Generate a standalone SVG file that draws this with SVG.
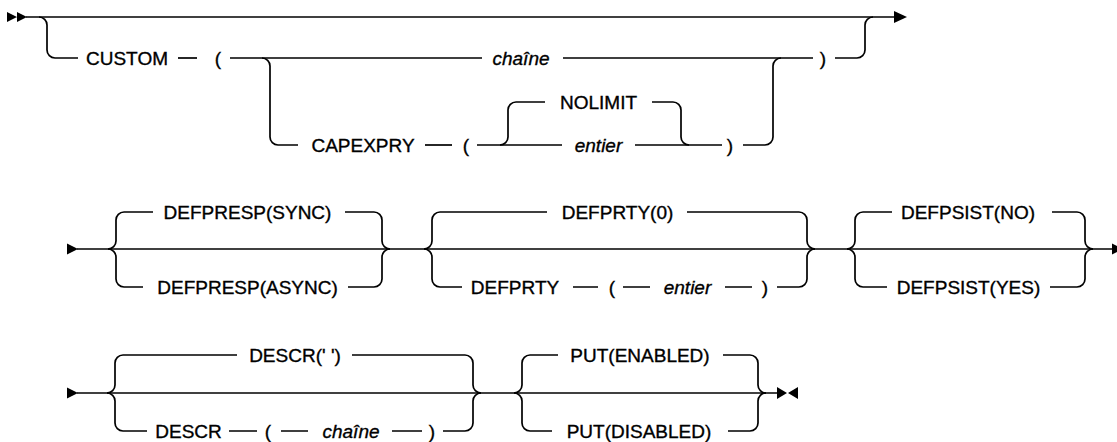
<svg xmlns="http://www.w3.org/2000/svg" width="1117" height="442" viewBox="0 0 1117 442">
<style>
.l{fill:none;stroke:#000;stroke-width:1.7}
.a{fill:#000;stroke:none}
text{font-family:"Liberation Sans",Arial,sans-serif;font-size:19px;fill:#000;stroke:#000;stroke-width:0.35;text-anchor:middle}
.i{font-style:italic}
</style>
<rect width="1117" height="442" fill="#fff"/>
<g id="connectors">
<!-- row 1 -->
<path class="a" d="M7,12 L17,17 L7,22 Z M17,12 L27,17 L17,22 Z"/>
<path class="l" d="M26,17 H895"/>
<path class="a" d="M894,11 L907,17 L894,23 Z"/>
<path class="l" d="M39,17 A8,8 0 0 1 47,25 V50 A8,8 0 0 0 55,58 H78"/>
<path class="l" d="M178,58 H197"/>
<path class="l" d="M230,58 H482 M563,58 H813"/>
<path class="l" d="M835,58 H857 A8,8 0 0 0 865,50 V25 A8,8 0 0 1 873,17"/>
<path class="l" d="M262,58 A8,8 0 0 1 270,66 V137 A8,8 0 0 0 278,145 H298"/>
<path class="l" d="M425,145 H452"/>
<path class="l" d="M477,145 H562 M635,145 H722"/>
<path class="l" d="M500,145 A8,8 0 0 0 508,137 V110 A8,8 0 0 1 516,102 H545"/>
<path class="l" d="M652,102 H673 A8,8 0 0 1 681,110 V137 A8,8 0 0 0 689,145"/>
<path class="l" d="M743,145 H765 A8,8 0 0 0 773,137 V66 A8,8 0 0 1 781,58"/>
<!-- row 2 -->
<path class="a" d="M67,243.5 L78,249 L67,254.5 Z"/>
<path class="l" d="M77,249 H1113"/>
<path class="a" d="M1112,243.5 L1123,249 L1112,254.5 Z"/>
<path class="l" d="M108,249 A8,8 0 0 0 116,241 V220 A8,8 0 0 1 124,212 H153 M345,212 H374 A8,8 0 0 1 382,220 V241 A8,8 0 0 0 390,249"/>
<path class="l" d="M108,249 A8,8 0 0 1 116,257 V279 A8,8 0 0 0 124,287 H143 M348,287 H374 A8,8 0 0 0 382,279 V257 A8,8 0 0 1 390,249"/>
<path class="l" d="M424,249 A8,8 0 0 0 432,241 V220 A8,8 0 0 1 440,212 H547 M687,212 H799 A8,8 0 0 1 807,220 V241 A8,8 0 0 0 815,249"/>
<path class="l" d="M424,249 A8,8 0 0 1 432,257 V279 A8,8 0 0 0 440,287 H462 M573,287 H598 M623,287 H650 M725,287 H752 M777,287 H799 A8,8 0 0 0 807,279 V257 A8,8 0 0 1 815,249"/>
<path class="l" d="M847,249 A8,8 0 0 0 855,241 V220 A8,8 0 0 1 863,212 H892 M1052,212 H1077 A8,8 0 0 1 1085,220 V241 A8,8 0 0 0 1093,249"/>
<path class="l" d="M847,249 A8,8 0 0 1 855,257 V279 A8,8 0 0 0 863,287 H887 M1050,287 H1077 A8,8 0 0 0 1085,279 V257 A8,8 0 0 1 1093,249"/>
<!-- row 3 -->
<path class="a" d="M67,387.5 L78,393 L67,398.5 Z"/>
<path class="l" d="M77,393 H778"/>
<path class="a" d="M777,387 L787,393 L777,399 Z M798,387 L788,393 L798,399 Z"/>
<path class="l" d="M107,393 A8,8 0 0 0 115,385 V363 A8,8 0 0 1 123,355 H237 M352,355 H465 A8,8 0 0 1 473,363 V385 A8,8 0 0 0 481,393"/>
<path class="l" d="M107,393 A8,8 0 0 1 115,401 V423 A8,8 0 0 0 123,431 H147 M229,431 H257 M281,431 H308 M392,431 H422 M443,431 H465 A8,8 0 0 0 473,423 V401 A8,8 0 0 1 481,393"/>
<path class="l" d="M514,393 A8,8 0 0 0 522,385 V363 A8,8 0 0 1 530,355 H558 M723,355 H750 A8,8 0 0 1 758,363 V385 A8,8 0 0 0 766,393"/>
<path class="l" d="M514,393 A8,8 0 0 1 522,401 V423 A8,8 0 0 0 530,431 H552 M728,431 H750 A8,8 0 0 0 758,423 V401 A8,8 0 0 1 766,393"/>
</g>
<g id="custom"><text x="127" y="64.5">CUSTOM</text><text x="218" y="64.5">(</text><text x="823" y="64.5">)</text></g>
<g id="chaine1"><text class="i" x="521" y="64.5">chaîne</text></g>
<g id="capexpry"><text x="363" y="151.5">CAPEXPRY</text><text x="466" y="151.5">(</text><text x="730" y="151.5">)</text></g>
<g id="nolimit"><text x="598.5" y="108.5">NOLIMIT</text></g>
<g id="entier1"><text class="i" x="598.5" y="151.5">entier</text></g>
<g id="defpresp-sync"><text x="247.5" y="218.5">DEFPRESP(SYNC)</text></g>
<g id="defpresp-async"><text x="247.5" y="293.5">DEFPRESP(ASYNC)</text></g>
<g id="defprty0"><text x="617.5" y="218.5">DEFPRTY(0)</text></g>
<g id="defprty"><text x="515" y="293.5">DEFPRTY</text><text x="612" y="293.5">(</text><text class="i" x="687.5" y="293.5">entier</text><text x="765" y="293.5">)</text></g>
<g id="defpsist-no"><text x="968" y="218.5">DEFPSIST(NO)</text></g>
<g id="defpsist-yes"><text x="968.5" y="293.5">DEFPSIST(YES)</text></g>
<g id="descr-default"><text x="295" y="361.5">DESCR(' ')</text></g>
<g id="descr"><text x="188.5" y="437.5">DESCR</text><text x="268" y="437.5">(</text><text class="i" x="351" y="437.5">chaîne</text><text x="432" y="437.5">)</text></g>
<g id="put-enabled"><text x="640" y="361.5">PUT(ENABLED)</text></g>
<g id="put-disabled"><text x="639" y="437.5">PUT(DISABLED)</text></g>
</svg>
